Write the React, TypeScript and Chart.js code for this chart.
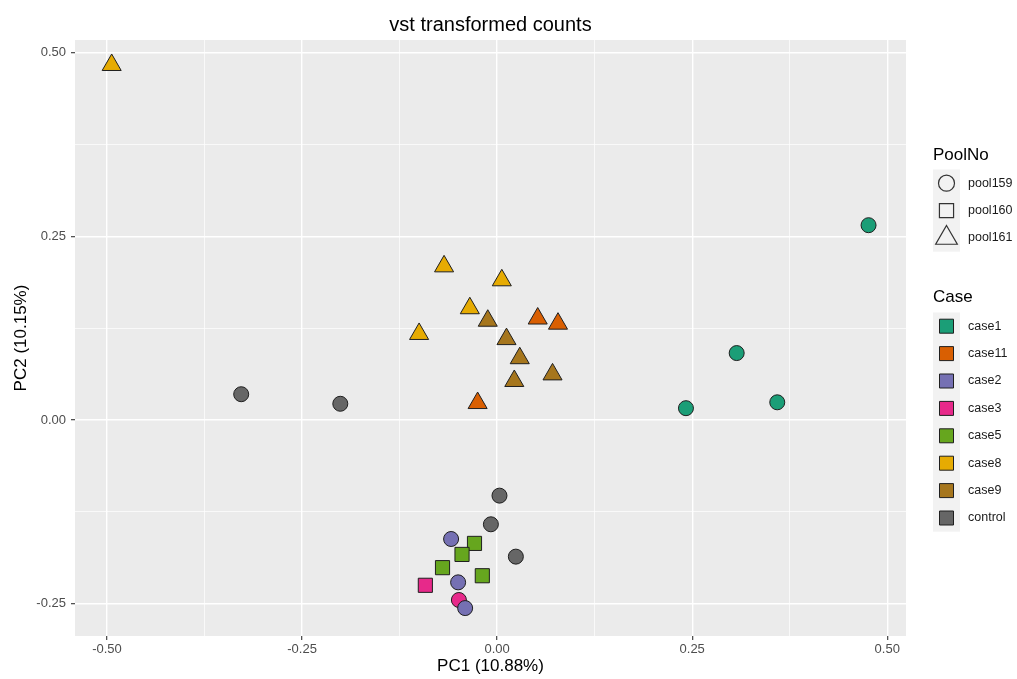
import React, { useEffect, useRef } from 'react';
import { Chart, registerables } from 'chart.js';

Chart.register(...registerables);

const FONT = '"Liberation Sans", Arial, Helvetica, sans-serif';

// Categories
const CASES = ['case1', 'case11', 'case2', 'case3', 'case5', 'case8', 'case9', 'control'];
const CASE_COLORS = ['#1B9E77', '#D95F02', '#7570B3', '#E7298A', '#66A61E', '#E6AB02', '#A6761D', '#666666'];
const POOLS = ['pool159', 'pool160', 'pool161'];
const POOL_STYLES = ['circle', 'rect', 'triangle'];
const POOL_RADII = [7.5, 10, 11];

// Samples
const SAMPLE_CASE = [
  'case1', 'case1', 'case1', 'case1',
  'case11', 'case11', 'case11',
  'case2', 'case2', 'case2',
  'case3', 'case3',
  'case5', 'case5', 'case5', 'case5',
  'case8', 'case8', 'case8', 'case8', 'case8',
  'case9', 'case9', 'case9', 'case9', 'case9',
  'control', 'control', 'control', 'control', 'control',
];
const SAMPLE_POOL = [
  'pool159', 'pool159', 'pool159', 'pool159',
  'pool161', 'pool161', 'pool161',
  'pool159', 'pool159', 'pool159',
  'pool159', 'pool160',
  'pool160', 'pool160', 'pool160', 'pool160',
  'pool161', 'pool161', 'pool161', 'pool161', 'pool161',
  'pool161', 'pool161', 'pool161', 'pool161', 'pool161',
  'pool159', 'pool159', 'pool159', 'pool159', 'pool159',
];
const PC1 = [
  0.476, 0.307, 0.242, 0.359,
  0.052, 0.078, -0.025,
  -0.059, -0.050, -0.041,
  -0.049, -0.092,
  -0.029, -0.045, -0.070, -0.019,
  -0.494, -0.068, 0.006, -0.035, -0.100,
  -0.012, 0.012, 0.029, 0.022, 0.071,
  -0.328, -0.201, 0.003, -0.008, 0.024,
];
const PC2 = [
  0.265, 0.091, 0.016, 0.024,
  0.138, 0.131, 0.023,
  -0.162, -0.221, -0.256,
  -0.245, -0.225,
  -0.168, -0.183, -0.201, -0.212,
  0.483, 0.209, 0.190, 0.152, 0.117,
  0.135, 0.110, 0.084, 0.053, 0.062,
  0.035, 0.022, -0.103, -0.142, -0.186,
];

// Axis ticks
const X_MAJOR = [-0.5, -0.25, 0, 0.25, 0.5];
const Y_MAJOR = [-0.25, 0, 0.25, 0.5];
const X_RANGE = [-0.541, 0.524];
const Y_RANGE = [-0.294, 0.517];

const TITLE = 'vst transformed counts';
const X_TITLE = 'PC1 (10.88%)';
const Y_TITLE = 'PC2 (10.15%)';

const isMajor = (v: number, list: number[]) => list.some((m) => Math.abs(m - v) < 1e-6);
const fmt = (v: number) => (Math.abs(v) < 1e-9 ? '0.00' : v.toFixed(2));

function buildDatasets() {
  const ds: any[] = [];
  CASES.forEach((c, ci) => {
    POOLS.forEach((p, pi) => {
      const pts: { x: number; y: number }[] = [];
      for (let i = 0; i < PC1.length; i++) {
        if (SAMPLE_CASE[i] === c && SAMPLE_POOL[i] === p) pts.push({ x: PC1[i], y: PC2[i] });
      }
      if (pts.length) {
        ds.push({
          label: c + ' ' + p,
          data: pts,
          pointStyle: POOL_STYLES[pi],
          pointRadius: POOL_RADII[pi],
          pointHoverRadius: POOL_RADII[pi],
          backgroundColor: CASE_COLORS[ci],
          borderColor: '#1f1f1f',
          borderWidth: 1,
        });
      }
    });
  });
  return ds;
}

function drawShape(ctx: CanvasRenderingContext2D, style: string, x: number, y: number, r: number) {
  ctx.beginPath();
  if (style === 'circle') {
    ctx.arc(x, y, r, 0, Math.PI * 2);
  } else if (style === 'rect') {
    const s = r * Math.SQRT1_2;
    ctx.rect(x - s, y - s, 2 * s, 2 * s);
  } else {
    for (let k = 0; k < 3; k++) {
      const a = (k * 2 * Math.PI) / 3;
      const px = x + Math.sin(a) * r;
      const py = y - Math.cos(a) * r;
      if (k === 0) ctx.moveTo(px, py);
      else ctx.lineTo(px, py);
    }
    ctx.closePath();
  }
}

const decorPlugin = {
  id: 'decor',
  beforeDraw(chart: any) {
    const { ctx, chartArea } = chart;
    ctx.save();
    ctx.fillStyle = '#FFFFFF';
    ctx.fillRect(0, 0, chart.width, chart.height);
    ctx.fillStyle = '#EBEBEB';
    ctx.fillRect(chartArea.left, chartArea.top, chartArea.right - chartArea.left, chartArea.bottom - chartArea.top);
    ctx.restore();
  },
  afterDraw(chart: any) {
    const { ctx, chartArea } = chart;
    ctx.save();
    // plot title
    ctx.fillStyle = '#000';
    ctx.font = `20px ${FONT}`;
    ctx.textAlign = 'center';
    ctx.textBaseline = 'alphabetic';
    ctx.fillText(TITLE, (chartArea.left + chartArea.right) / 2, 31);

    const keyX = 933;
    const keyW = 27;
    const rowH = 27.4;
    const labelX = 968;

    // PoolNo legend
    ctx.textAlign = 'left';
    ctx.font = `17px ${FONT}`;
    ctx.fillText('PoolNo', keyX, 160);
    const poolTop = 169.5;
    ctx.fillStyle = '#F2F2F2';
    ctx.fillRect(keyX, poolTop, keyW, rowH * POOLS.length);
    POOLS.forEach((p, i) => {
      const cy = poolTop + rowH * (i + 0.5);
      ctx.strokeStyle = '#333333';
      ctx.lineWidth = 1.2;
      drawShape(ctx, POOL_STYLES[i], keyX + keyW / 2, cy, i === 0 ? 8 : i === 1 ? 10 : 12.5);
      ctx.stroke();
      ctx.fillStyle = '#1a1a1a';
      ctx.font = `12.5px ${FONT}`;
      ctx.textBaseline = 'middle';
      ctx.fillText(p, labelX, cy);
      ctx.textBaseline = 'alphabetic';
    });

    // Case legend
    ctx.fillStyle = '#000';
    ctx.font = `17px ${FONT}`;
    ctx.fillText('Case', keyX, 302);
    const caseTop = 312.5;
    ctx.fillStyle = '#F2F2F2';
    ctx.fillRect(keyX, caseTop, keyW, rowH * CASES.length);
    CASES.forEach((c, i) => {
      const cy = caseTop + rowH * (i + 0.5);
      ctx.fillStyle = CASE_COLORS[i];
      ctx.strokeStyle = '#1f1f1f';
      ctx.lineWidth = 1;
      ctx.beginPath();
      ctx.rect(keyX + keyW / 2 - 7, cy - 7, 14, 14);
      ctx.fill();
      ctx.stroke();
      ctx.fillStyle = '#1a1a1a';
      ctx.font = `12.5px ${FONT}`;
      ctx.textBaseline = 'middle';
      ctx.fillText(c, labelX, cy);
      ctx.textBaseline = 'alphabetic';
    });
    ctx.restore();
  },
};

function axis(range: number[], major: number[], title: string, horizontal: boolean) {
  return {
    type: 'linear',
    min: range[0],
    max: range[1],
    afterFit: (s: any) => {
      if (horizontal) s.height = 43;
      else s.width = 75;
    },
    border: { display: false },
    grid: {
      color: '#FFFFFF',
      lineWidth: (c: any) => (c.tick && isMajor(c.tick.value, major) ? 1.4 : 0.7),
      tickColor: (c: any) => (c.tick && isMajor(c.tick.value, major) ? '#333333' : 'rgba(0,0,0,0)'),
      tickLength: 4,
      tickWidth: 1.1,
    },
    ticks: {
      stepSize: 0.125,
      includeBounds: false,
      autoSkip: false,
      maxRotation: 0,
      padding: horizontal ? 2 : 5,
      color: '#4D4D4D',
      font: { family: FONT, size: 13 },
      callback: (v: any) => (isMajor(Number(v), major) ? fmt(Number(v)) : ''),
    },
    title: {
      display: true,
      text: title,
      color: '#000',
      font: { family: FONT, size: 17 },
      padding: horizontal ? { top: 0, bottom: 2 } : { top: 11, bottom: 0 },
    },
  };
}

export default function App() {
  const ref = useRef<HTMLCanvasElement | null>(null);
  useEffect(() => {
    if (!ref.current) return;
    const chart = new Chart(ref.current, {
      type: 'scatter',
      data: { datasets: buildDatasets() },
      options: {
        animation: false,
        responsive: false,
        maintainAspectRatio: false,
        events: [],
        layout: { padding: { left: 0, top: 40, right: 111, bottom: 0 } },
        plugins: {
          legend: { display: false },
          tooltip: { enabled: false },
          title: { display: false },
        },
        scales: {
          x: axis(X_RANGE, X_MAJOR, X_TITLE, true) as any,
          y: axis(Y_RANGE, Y_MAJOR, Y_TITLE, false) as any,
        },
      },
      plugins: [decorPlugin],
    });
    return () => chart.destroy();
  }, []);
  return (
    <div style={{ position: 'absolute', left: 0, top: 0, width: 1017, height: 679, background: '#fff' }}>
      <canvas ref={ref} width={1017} height={679} style={{ display: 'block', width: 1017, height: 679 }} />
    </div>
  );
}
